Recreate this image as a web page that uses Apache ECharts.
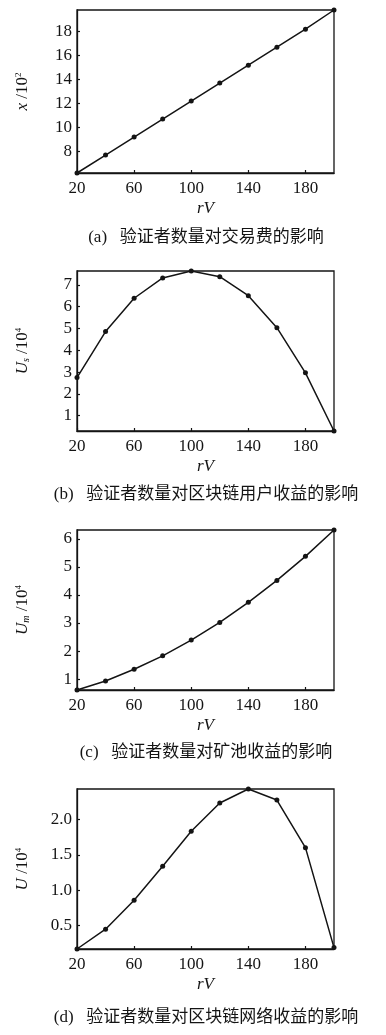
<!DOCTYPE html>
<html>
<head>
<meta charset="utf-8">
<script src="https://cdn.jsdelivr.net/npm/echarts@6/dist/echarts.min.js"></script>
<style>
html,body{margin:0;padding:0;background:#fff;}
#c{width:386px;height:1035px;}
</style>
</head>
<body>
<div id="c"></div>
<script>
// ---- data ----
const rV = [20, 40, 60, 80, 100, 120, 140, 160, 180, 200];
const feeX = [6.2, 7.7, 9.2, 10.7, 12.2, 13.7, 15.2, 16.7, 18.2, 19.8];
const userUs = [2.75, 4.86, 6.39, 7.32, 7.64, 7.38, 6.51, 5.04, 2.97, 0.30];
const poolUm = [0.61, 0.93, 1.35, 1.83, 2.39, 3.02, 3.74, 4.52, 5.38, 6.32];
const netU = [0.17, 0.45, 0.86, 1.34, 1.835, 2.236, 2.434, 2.278, 1.604, 0.19];

const xTicks = [20, 60, 100, 140, 180];
const yTicksA = [8, 10, 12, 14, 16, 18];
const yTicksB = [1, 2, 3, 4, 5, 6, 7];
const yTicksC = [1, 2, 3, 4, 5, 6];
const yTicksD = [0.5, 1.0, 1.5, 2.0];

const yNames = [
  '{i|x} /10{sup|2}',
  '{i|U}{sub|s} /10{sup|4}',
  '{i|U}{sub|m} /10{sup|4}',
  '{i|U} /10{sup|4}'
];
const captions = [
  '(a)   验证者数量对交易费的影响',
  '(b)   验证者数量对区块链用户收益的影响',
  '(c)   验证者数量对矿池收益的影响',
  '(d)   验证者数量对区块链网络收益的影响'
];
const seriesData = [feeX, userUs, poolUm, netU];
const yTicks = [yTicksA, yTicksB, yTicksC, yTicksD];
const yDecimals = [0, 0, 0, 1];

// ---- layout ----
const INK = '#141414';
const SERIF = '"Liberation Serif","DejaVu Serif",serif';
const CAP_FONT = '"Liberation Serif","Noto Sans CJK SC",serif';
const grids = [
  {top: 10, height: 163},
  {top: 271, height: 160},
  {top: 530, height: 160},
  {top: 789, height: 160}
];
const capY = [238, 495, 753, 1018];

const chart = echarts.init(document.getElementById('c'), null, {renderer: 'canvas'});

const option = {
  backgroundColor: '#fff',
  animation: false,
  grid: grids.map(g => ({
    left: 77, width: 257, top: g.top, height: g.height,
    show: true, borderColor: INK, borderWidth: 1.3, backgroundColor: 'transparent'
  })),
  xAxis: grids.map((g, i) => ({
    type: 'value', gridIndex: i, min: 20, max: 200,
    name: '{i|rV}', nameLocation: 'middle', nameGap: 27,
    nameTextStyle: {
      fontFamily: SERIF, fontSize: 17, color: INK,
      rich: {i: {fontStyle: 'italic', fontFamily: SERIF, fontSize: 17, color: INK}}
    },
    axisLine: {show: true, onZero: false, lineStyle: {color: INK, width: 1.3}},
    axisTick: {show: true, inside: true, length: 3, customValues: xTicks, lineStyle: {color: INK, width: 1.2}},
    axisLabel: {customValues: xTicks, margin: 7, fontFamily: SERIF, fontSize: 17, color: INK},
    splitLine: {show: false}
  })),
  yAxis: grids.map((g, i) => ({
    type: 'value', gridIndex: i, min: 'dataMin', max: 'dataMax', scale: true,
    name: yNames[i], nameLocation: 'middle', nameGap: 46, nameRotate: 90,
    nameTextStyle: {
      fontFamily: SERIF, fontSize: 17, color: INK,
      rich: {
        i: {fontStyle: 'italic', fontFamily: SERIF, fontSize: 17, color: INK},
        sub: {fontStyle: 'italic', fontFamily: SERIF, fontSize: 10, color: INK, verticalAlign: 'bottom'},
        sup: {fontFamily: SERIF, fontSize: 9, color: INK, verticalAlign: 'top'}
      }
    },
    axisLine: {show: true, onZero: false, lineStyle: {color: INK, width: 1.3}},
    axisTick: {show: true, inside: true, length: 3, customValues: yTicks[i], lineStyle: {color: INK, width: 1.2}},
    axisLabel: {
      customValues: yTicks[i], margin: 5, fontFamily: SERIF, fontSize: 17, color: INK,
      formatter: v => Number(v).toFixed(yDecimals[i])
    },
    splitLine: {show: false}
  })),
  series: seriesData.map((d, i) => ({
    type: 'line', xAxisIndex: i, yAxisIndex: i,
    data: rV.map((x, k) => [x, d[k]]),
    symbol: 'circle', symbolSize: 5, showSymbol: true,
    lineStyle: {color: INK, width: 1.5},
    itemStyle: {color: INK},
    clip: false
  })),
  graphic: captions.map((t, i) => ({
    type: 'text', x: 206, y: capY[i],
    style: {
      text: t, textAlign: 'center', textVerticalAlign: 'middle',
      font: '17px ' + CAP_FONT, fill: INK
    }
  }))
};
chart.setOption(option);
</script>
</body>
</html>
